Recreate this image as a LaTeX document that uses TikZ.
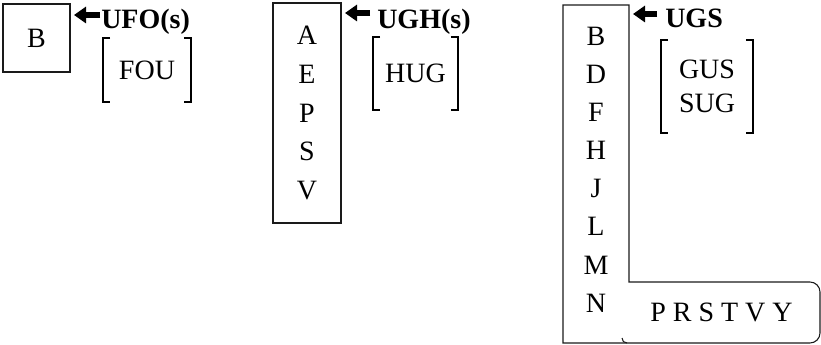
\documentclass[tikz,border=0pt]{standalone}
\usepackage{fontspec}
\setmainfont{Liberation Serif}
\usetikzlibrary{arrows.meta,positioning}
\definecolor{ink}{HTML}{1A1A1A}
\tikzset{
  cell/.style   ={draw=ink, line width=0.8pt, inner sep=0pt, align=center,
                  font=\fontsize{21}{29}\selectfont},
  stack/.style  ={inner sep=0pt, align=center, font=\fontsize{21}{28.6}\selectfont},
  tag/.style    ={inner sep=0pt, anchor=base west, font=\fontsize{21}{25}\selectfont\bfseries},
  inner/.style  ={inner sep=0pt, align=center, font=\fontsize{21}{25}\selectfont},
  brk/.style    ={draw=black, line width=1.2pt},
  outline/.style={draw=ink, line width=0.8pt},
  fatarr/.style ={-{Triangle[length=9pt,width=12pt]}, line width=4.5pt, draw=black},
}
\newcommand\brackets[1]{%
  \draw[brk] ([xshift=5.5pt]#1.north west) -- (#1.north west) -- (#1.south west) -- ([xshift=5.5pt]#1.south west);
  \draw[brk] ([xshift=-5.5pt]#1.north east) -- (#1.north east) -- (#1.south east) -- ([xshift=-5.5pt]#1.south east);}

\begin{document}
\begin{tikzpicture}[x=0.75pt,y=-0.75pt]
  \useasboundingbox (0,0) rectangle (821,345);
  % UFO group
  \node[cell,minimum width=50.25pt,minimum height=51pt] (b1) at (36.5,38) {B};
  \node[tag] (ufo) at (101,29) {UFO(s)};
  \node[inner,minimum width=66pt,minimum height=48pt] (fou) at (147,70) {FOU};
  \brackets{fou}
  \coordinate (ufotail) at (100,15);
  \coordinate (ufotip) at (74,15);
  \draw[fatarr] (ufotail) -- (ufotip);
  % UGH group
  \node[cell,minimum width=51pt,minimum height=165pt] (b2) at (307,113) {A\\E\\P\\S\\V};
  \node[tag] (ugh) at (377,29) {UGH(s)};
  \node[inner,minimum width=63.75pt,minimum height=54.75pt] (hug) at (415.5,73.5) {HUG};
  \brackets{hug}
  \coordinate (ughtail) at (370,13);
  \coordinate (ughtip) at (345,13);
  \draw[fatarr] (ughtail) -- (ughtip);
  % UGS group
  \node[stack] (b3) at (596,169.5) {B\\D\\F\\H\\J\\L\\M\\N};
  \node[stack] (tail) at (721.5,312.5) {P R S T V Y};
  \draw[outline] (563,5) -- (629,5) -- (629,282) -- (810,282)
    .. controls (815.5,282) and (820,286.5) .. (820,292) -- (820,333)
    .. controls (820,338.5) and (815.5,343) .. (810,343) -- (563,343) -- cycle;
  \draw[outline] (622,338) .. controls (622,341) and (624,343) .. (627,343);
  \node[tag] (ugs) at (665,28) {UGS};
  \node[inner,minimum width=69pt,minimum height=69.75pt] (gus) at (707,86.5) {GUS\\SUG};
  \brackets{gus}
  \coordinate (ugstail) at (657,14);
  \coordinate (ugstip) at (633,14);
  \draw[fatarr] (ugstail) -- (ugstip);
\end{tikzpicture}
\end{document}
